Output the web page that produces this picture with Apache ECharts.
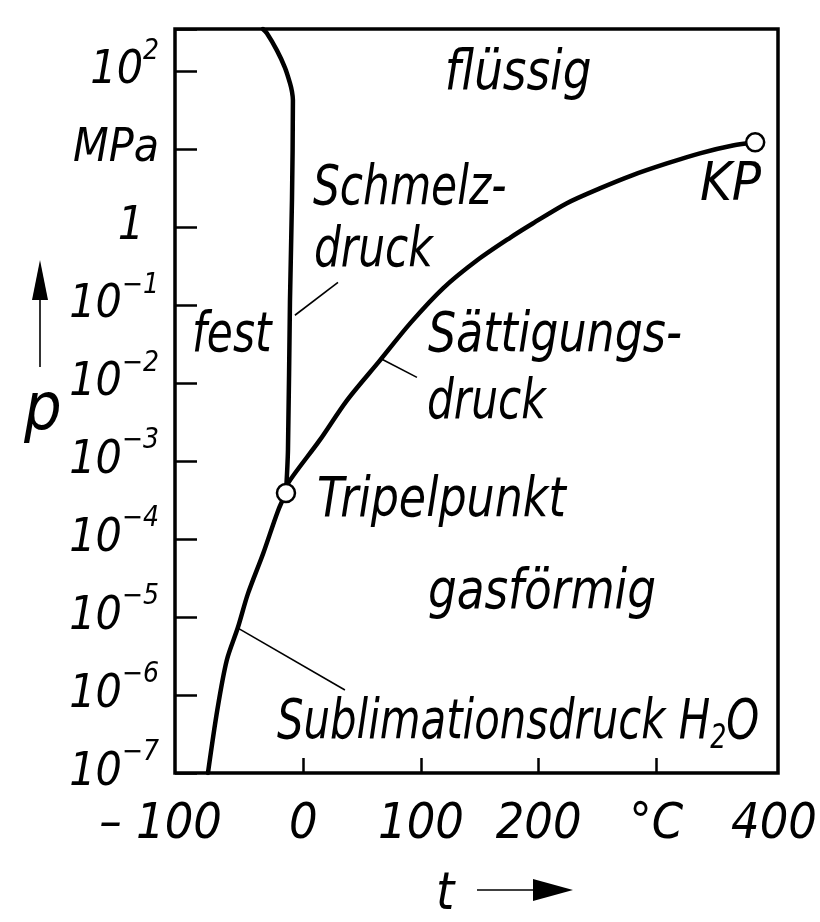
<!DOCTYPE html>
<html>
<head>
<meta charset="utf-8">
<script src="https://cdn.jsdelivr.net/npm/echarts@6/dist/echarts.min.js"></script>
<style>
html,body{margin:0;padding:0;background:#fff;}
#c{width:820px;height:922px;}
</style>
</head>
<body>
<div id="c"></div>
<script>
const FONT = "'DejaVu Sans Condensed', 'DejaVu Sans', sans-serif";

// temperature t in °C, pressure p in MPa
const sublimationT = [-81, -73, -65, -55.5, -47, -34, -21.5, -14.7];
const sublimationP = [1.0e-7, 6.5e-7, 2.8e-6, 7.4e-6, 2.0e-5, 6.6e-5, 2.3e-4, 3.9e-4];

const meltingT = [-14.7, -13, -11.3, -9.6, -8.8, -9.6, -11.3, -15.6, -22.4, -30.9, -34.3];
const meltingP = [3.9e-4, 1.4e-3, 0.115, 2.24, 42.7, 55, 70.8, 112, 186, 309, 350];

const saturationT = [-14.7, -13, 14, 37, 65, 91, 119, 148, 176, 195, 224, 252, 280, 309, 337, 365, 384];
const saturationP = [3.9e-4, 5.2e-4, 1.86e-3, 6.0e-3, 0.0195, 0.059, 0.166, 0.38, 0.74, 1.12, 2.04, 3.16, 4.68, 6.6, 8.9, 11.2, 12.3];

const triplePoint = [-14.7, 3.9e-4];
const criticalPoint = [384, 12.3];

// leader lines [t, p]
const leaderSchmelz = [[29.5, 0.197], [-7.1, 0.0745]];
const leaderSaettigung = [[66.9, 0.0203], [96.6, 0.0119]];
const leaderSublimation = [[-55.5, 7.23e-6], [35.4, 1.16e-6]];

// axis ticks / labels
const xTickValues = [0, 100, 200, 300];
const xLabelValues = [-100, 0, 100, 200, 300, 400];
const yMinExp = -7;
const yMaxP = 350;
const xTitle = 't';
const yTitle = 'p';

// annotations: text, anchor [t, p] (left / middle)
const annotations = [
  {text: 'flüssig', at: [120.3, 91.2], sx: 0.9},
  {text: 'Schmelz-', at: [8.2, 3.07], sx: 0.84},
  {text: 'druck', at: [9.1, 0.492], sx: 0.84},
  {text: 'fest', at: [-94.6, 0.0401], sx: 0.84},
  {text: 'Sättigungs-', at: [105.9, 0.0401], sx: 0.88},
  {text: 'druck', at: [105.1, 0.00555], sx: 0.84},
  {text: 'Tripelpunkt', at: [11.6, 3.07e-4], sx: 0.88},
  {text: 'gasförmig', at: [105.9, 2.03e-5], sx: 0.9},
  {text: '{a|Sublimationsdruck H}{s|2}{a|O}', at: [-22.4, 4.38e-7], sx: 0.83},
  {text: 'KP', at: [337.1, 3.36], size: 54, sx: 1}
];

const toPts = (ts, ps) => ts.map((t, i) => [t, Math.log10(ps[i])]);
const txt = (size, extra) => Object.assign({fontFamily: FONT, fontStyle: 'italic', fontSize: size, color: '#000'}, extra || {});

const chart = echarts.init(document.getElementById('c'), null, {renderer: 'canvas'});

const curveStyle = {color: '#000', width: 4.5, cap: 'round', join: 'round'};
const leaderStyle = {color: '#000', width: 1.6};

const option = {
  animation: false,
  backgroundColor: '#fff',
  grid: {left: 175, right: 42, top: 29, bottom: 149, containLabel: false, outerBoundsMode: 'none',
         show: true, borderColor: '#000', borderWidth: 3.5, backgroundColor: 'transparent'},
  xAxis: {
    type: 'value', min: -109, max: 403.4,
    axisLine: {show: false, onZero: false},
    splitLine: {show: false},
    axisTick: {show: true, inside: true, length: 15, customValues: xTickValues, lineStyle: {color: '#000', width: 2.5}},
    axisLabel: Object.assign(txt(50, {lineHeight: 50}), {
      margin: 27,
      customValues: xLabelValues,
      formatter: v => v === 300 ? '°C' : (v === -100 ? '{n|– 100}' : String(v)),
      rich: {n: txt(50, {lineHeight: 50, padding: [0, 50, 0, 0]})}
    })
  },
  yAxis: {
    type: 'value', min: yMinExp, max: Math.log10(yMaxP), interval: 1,
    axisLine: {show: false, onZero: false},
    splitLine: {show: false},
    axisTick: {show: true, inside: true, length: 22, lineStyle: {color: '#000', width: 2.5}},
    axisLabel: {
      margin: 16,
      formatter: v => {
        if (Math.abs(v - Math.round(v)) > 1e-6) return '';
        const e = Math.round(v);
        if (e === 1) return '{b|MPa}';
        if (e === 0) return '{o|1}';
        if (e > 0) return '{b|10}{s|' + e + '}';
        return '{b|10}{s|\u2212' + (-e) + '}';
      },
      rich: {
        b: txt(46, {lineHeight: 68}),
        o: txt(46, {lineHeight: 68, padding: [0, 15, 0, 0]}),
        s: txt(28, {lineHeight: 20, verticalAlign: 'top'})
      }
    }
  },
  series: [
    {type: 'line', data: toPts(sublimationT, sublimationP), symbol: 'none', smooth: 0.3, lineStyle: curveStyle, z: 3},
    {type: 'line', data: toPts(meltingT, meltingP), symbol: 'none', smooth: 0.3, lineStyle: curveStyle, z: 3},
    {type: 'line', data: toPts(saturationT, saturationP), symbol: 'none', smooth: 0.3, lineStyle: curveStyle, z: 3},
    {type: 'line', data: leaderSchmelz.map(d => [d[0], Math.log10(d[1])]), symbol: 'none', lineStyle: leaderStyle, z: 2},
    {type: 'line', data: leaderSaettigung.map(d => [d[0], Math.log10(d[1])]), symbol: 'none', lineStyle: leaderStyle, z: 2},
    {type: 'line', data: leaderSublimation.map(d => [d[0], Math.log10(d[1])]), symbol: 'none', lineStyle: leaderStyle, z: 2},
    {type: 'scatter', data: [triplePoint, criticalPoint].map(d => [d[0], Math.log10(d[1])]), symbol: 'circle', symbolSize: 18,
     itemStyle: {color: '#fff', borderColor: '#000', borderWidth: 2.5, opacity: 1}, z: 10}
  ]
};
chart.setOption(option);

const graphics = annotations.map(a => {
  const px = chart.convertToPixel({gridIndex: 0}, [a.at[0], Math.log10(a.at[1])]);
  const size = a.size || 56;
  return {
    type: 'text', x: px[0], y: px[1], z: 20, scaleX: a.sx, scaleY: 1,
    style: {
      text: a.text, fill: '#000', fontFamily: FONT, fontStyle: 'italic', fontSize: size,
      textAlign: 'left', verticalAlign: 'middle', textVerticalAlign: 'middle',
      rich: {
        a: {fontFamily: FONT, fontStyle: 'italic', fontSize: size, lineHeight: 66, fill: '#000'},
        s: {fontFamily: FONT, fontStyle: 'italic', fontSize: 34, lineHeight: 20, verticalAlign: 'bottom', fill: '#000'}
      }
    }
  };
});
// axis titles with arrows
graphics.push(
  {type: 'text', x: 24, y: 412, style: {text: yTitle, fill: '#000', fontFamily: FONT, fontStyle: 'italic', fontSize: 66, textAlign: 'left', verticalAlign: 'middle', textVerticalAlign: 'middle'}},
  {type: 'text', x: 436, y: 895, style: {text: xTitle, fill: '#000', fontFamily: FONT, fontStyle: 'italic', fontSize: 52, textAlign: 'left', verticalAlign: 'middle', textVerticalAlign: 'middle'}},
  {type: 'line', shape: {x1: 40, y1: 300, x2: 40, y2: 367}, style: {stroke: '#000', lineWidth: 1.6}},
  {type: 'polygon', shape: {points: [[40, 260], [32, 300], [48, 300]]}, style: {fill: '#000'}},
  {type: 'line', shape: {x1: 477, y1: 890, x2: 535, y2: 890}, style: {stroke: '#000', lineWidth: 1.6}},
  {type: 'polygon', shape: {points: [[573, 890], [533, 879], [533, 901]]}, style: {fill: '#000'}}
);
chart.setOption({graphic: graphics});
</script>
</body>
</html>
